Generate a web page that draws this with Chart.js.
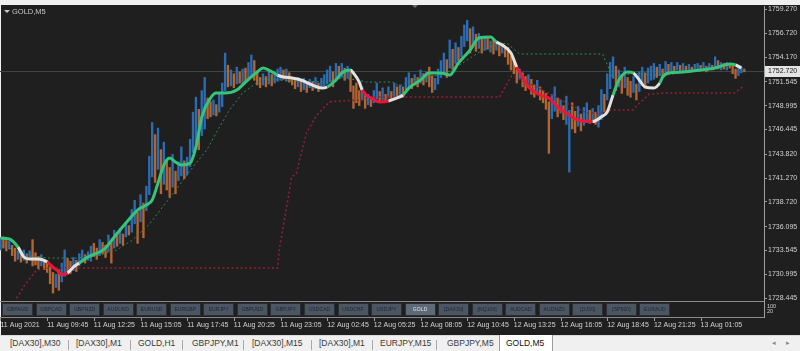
<!DOCTYPE html>
<html>
<head>
<meta charset="utf-8">
<script src="https://cdn.jsdelivr.net/npm/chart.js@4.4.1/dist/chart.umd.min.js"></script>
<style>
  body { margin: 0; width: 800px; height: 351px; overflow: hidden; background: #f0f0f0; font-family: 'Liberation Sans', Arial, sans-serif; position: relative; }
  #win { position: absolute; left: 1px; top: 5px; width: 799px; height: 330px; background: #1f1f1f; }
  #chart { position: absolute; left: 0; top: 0; }
  .title { position: absolute; left: 12px; top: 7px; font-size: 7.5px; color: #c8c8c8; }
  .tri { position: absolute; left: 4px; top: 10px; width: 0; height: 0; border-left: 3px solid transparent; border-right: 3px solid transparent; border-top: 3px solid #c8c8c8; }
  .shift { position: absolute; left: 412px; top: 5px; width: 0; height: 0; border-left: 3px solid transparent; border-right: 3px solid transparent; border-top: 3px solid #5f6f74; }
  .hline { position: absolute; left: 0; width: 764px; height: 1px; background: #8a8a8a; }
  .btn { position: absolute; top: 303px; height: 11px; width: 29px; background: #4c5562; border: 1px solid #2a2e35; font-size: 5px; line-height: 11px; text-align: center; color: #1c2430; letter-spacing: 0.1px; }
  .btn.on { background: #5f6a78; color: #e2e2e2; }
  .sub { position: absolute; left: 767px; font-size: 5.5px; color: #d0d0d0; line-height: 5px; }
  #tabs { position: absolute; left: 0; top: 335px; width: 800px; height: 16px; background: #f0f0f0; border-top: 1px solid #dadada; }
  .tab { position: absolute; top: 2px; font-size: 8.5px; color: #3a3a3a; }
  .sep { position: absolute; top: 4px; width: 1px; height: 10px; background: #a8a8a8; }
  .act { position: absolute; left: 499px; top: -1px; width: 52px; height: 17px; background: #ffffff; border: 1px solid #9c9c9c; border-top: none; }
  .arr { position: absolute; top: 3px; font-size: 7px; color: #8a8a8a; }
</style>
</head>
<body>
<div id="win"></div>
<canvas id="chart" width="800" height="335"></canvas>
<div class="tri"></div>
<div class="title">GOLD,M5</div>
<div class="shift"></div>
<div class="hline" style="top:301px"></div>
<div class="hline" style="top:317px"></div>
<div id="buttons"></div>
<div class="sub" style="top:304px">100</div>
<div class="sub" style="top:309px">20</div>
<div id="tabs"></div>
<script>
// time axis labels, one every 16 bars
const timeLabels = ['11 Aug 2021', '11 Aug 09:45', '11 Aug 12:25', '11 Aug 15:05', '11 Aug 17:45', '11 Aug 20:25',
  '11 Aug 23:05', '12 Aug 02:45', '12 Aug 05:25', '12 Aug 08:05', '12 Aug 10:45', '12 Aug 13:25',
  '12 Aug 16:05', '12 Aug 18:45', '12 Aug 21:25', '13 Aug 01:05'];

// price axis labels
const priceTicks = [1759.270, 1756.720, 1754.170, 1751.545, 1748.995, 1746.445, 1743.820,
  1741.270, 1738.720, 1736.095, 1733.545, 1730.995, 1728.445];
const lastPrice = 1752.720;

// bar lows / highs (GOLD M5)
const lows = [
  1733.6, 1733.8, 1733.5, 1733.7, 1733.0, 1732.4, 1732.6, 1732.3,
  1732.5, 1732.2, 1732.6, 1731.9, 1732.0, 1731.6, 1731.9, 1731.5,
  1731.2, 1730.0, 1729.0, 1729.6, 1729.3, 1730.2, 1730.8, 1731.0,
  1731.1, 1731.4, 1731.3, 1731.9, 1732.3, 1732.2, 1732.5, 1732.4,
  1732.9, 1732.6, 1733.0, 1733.2, 1732.8, 1733.4, 1732.2, 1733.8,
  1734.0, 1734.3, 1734.1, 1735.0, 1735.2, 1735.5, 1736.4, 1734.3,
  1736.6, 1734.9, 1737.8, 1739.5, 1741.4, 1740.8, 1742.2, 1739.6,
  1740.6, 1740.0, 1739.2, 1740.3, 1739.6, 1741.0, 1741.5, 1741.2,
  1741.6, 1742.5, 1744.0, 1745.0, 1744.3, 1745.8, 1746.5, 1747.6,
  1747.8, 1748.0, 1747.9, 1748.3, 1748.9, 1750.6, 1751.0, 1751.1,
  1750.9, 1751.3, 1751.4, 1751.2, 1751.6, 1751.7, 1752.1, 1751.7,
  1751.2, 1750.9, 1751.2, 1751.0, 1751.3, 1751.1, 1751.4, 1751.6,
  1751.7, 1751.8, 1751.6, 1751.5, 1751.2, 1750.8, 1751.0, 1750.5,
  1750.7, 1750.4, 1750.9, 1750.6, 1750.8, 1750.5, 1750.9, 1751.1,
  1751.3, 1751.5, 1751.0, 1751.6, 1751.9, 1752.0, 1751.7, 1751.9,
  1750.5, 1748.7, 1749.3, 1749.0, 1749.6, 1748.7, 1749.1, 1748.9,
  1749.3, 1749.7, 1749.4, 1749.6, 1749.3, 1749.8, 1749.5, 1749.9,
  1750.0, 1750.2, 1749.9, 1750.7, 1751.0, 1750.8, 1751.2, 1751.0,
  1751.4, 1751.2, 1751.5, 1751.0, 1750.4, 1750.7, 1751.3, 1752.0,
  1752.4, 1752.0, 1753.0, 1752.9, 1753.5, 1753.8, 1754.2, 1755.3,
  1755.9, 1754.6, 1755.2, 1754.8, 1755.1, 1754.6, 1754.9, 1755.0,
  1754.7, 1754.5, 1754.9, 1754.3, 1754.6, 1754.2, 1753.4, 1752.8,
  1752.4, 1751.4, 1751.9, 1751.0, 1750.6, 1751.0, 1750.2, 1749.9,
  1750.3, 1749.6, 1749.3, 1748.6, 1743.9, 1747.6, 1748.4, 1747.8,
  1748.2, 1747.5, 1747.0, 1741.9, 1746.5, 1746.1, 1746.8, 1746.3,
  1746.9, 1747.2, 1747.1, 1747.4, 1747.0, 1746.7, 1747.5, 1748.3,
  1749.6, 1750.8, 1751.9, 1750.6, 1751.0, 1750.3, 1750.9, 1750.1,
  1749.9, 1750.4, 1749.6, 1750.5, 1751.2, 1750.9, 1751.4, 1751.7,
  1751.8, 1752.0, 1752.2, 1752.1, 1752.5, 1752.6, 1752.7, 1752.5,
  1752.8, 1752.6, 1752.7, 1752.6, 1752.8, 1752.6, 1752.7, 1752.8,
  1752.7, 1752.8, 1752.6, 1752.9, 1752.8, 1753.0, 1752.9, 1752.8,
  1752.9, 1752.8, 1753.0, 1752.4, 1751.9, 1752.2, 1752.5, 1752.6
];
const highs = [
  1734.9, 1735.0, 1734.6, 1734.5, 1734.1, 1733.8, 1733.5, 1733.3,
  1733.6, 1733.2, 1733.5, 1734.7, 1733.3, 1732.9, 1733.1, 1732.6,
  1732.5, 1731.8, 1731.2, 1731.0, 1731.5, 1732.2, 1733.6, 1732.7,
  1732.4, 1732.8, 1732.5, 1733.2, 1733.6, 1733.1, 1733.4, 1734.0,
  1734.3, 1733.8, 1734.7, 1734.4, 1734.1, 1735.2, 1734.6, 1735.7,
  1735.4, 1735.9, 1735.3, 1736.5, 1736.2, 1737.9, 1738.9, 1737.6,
  1739.5, 1738.6, 1740.4, 1743.6, 1747.2, 1745.9, 1746.6, 1744.3,
  1745.1, 1743.2, 1742.4, 1743.8, 1742.0, 1743.0, 1744.6, 1743.1,
  1743.5, 1745.4, 1748.3, 1749.9, 1748.6, 1750.6, 1752.0, 1749.8,
  1749.4, 1749.6, 1749.1, 1750.2, 1751.4, 1754.6, 1753.3, 1752.8,
  1752.4, 1753.1, 1752.6, 1752.9, 1753.0, 1753.6, 1754.4, 1753.8,
  1752.6, 1752.0, 1752.4, 1752.1, 1752.8, 1752.3, 1752.6, 1752.9,
  1753.1, 1752.8, 1752.9, 1752.5, 1752.0, 1751.9, 1752.0, 1751.7,
  1751.9, 1751.5, 1751.8, 1751.6, 1752.0, 1751.4, 1751.9, 1752.3,
  1752.8, 1753.2, 1752.6, 1753.5, 1753.2, 1753.5, 1753.0, 1753.2,
  1752.6, 1751.1, 1751.4, 1750.6, 1751.0, 1750.3, 1750.2, 1749.9,
  1750.6, 1751.4, 1750.5, 1750.9, 1750.2, 1751.0, 1750.5, 1751.4,
  1751.0, 1751.2, 1751.0, 1752.0, 1752.5, 1751.9, 1752.3, 1752.0,
  1752.8, 1752.4, 1752.6, 1753.1, 1752.2, 1751.9, 1752.9, 1753.8,
  1754.6, 1753.9, 1756.0, 1755.0, 1755.7, 1755.2, 1756.4, 1757.6,
  1758.1, 1757.2, 1757.4, 1756.6, 1756.7, 1756.1, 1756.4, 1756.2,
  1755.9, 1756.0, 1755.8, 1755.5, 1755.6, 1755.3, 1755.2, 1754.3,
  1753.9, 1753.0, 1752.9, 1752.5, 1752.1, 1752.3, 1751.8, 1751.2,
  1751.7, 1751.0, 1750.6, 1750.3, 1749.4, 1750.2, 1751.0, 1749.8,
  1749.6, 1749.0, 1750.0, 1748.5, 1749.3, 1748.4, 1748.9, 1748.1,
  1748.8, 1749.3, 1748.5, 1748.7, 1748.3, 1749.0, 1750.7, 1750.2,
  1752.4, 1753.6, 1754.2, 1753.2, 1752.8, 1752.3, 1753.1, 1752.0,
  1751.6, 1752.1, 1751.3, 1752.6, 1753.1, 1752.5, 1753.0, 1753.2,
  1753.5, 1753.1, 1753.4, 1752.9, 1753.7, 1753.4, 1753.6, 1753.2,
  1753.6, 1753.3, 1753.5, 1753.2, 1753.4, 1753.1, 1753.4, 1753.5,
  1753.3, 1753.6, 1753.2, 1753.5, 1753.3, 1754.2, 1753.8, 1753.6,
  1753.5, 1753.6, 1753.5, 1753.4, 1752.9, 1753.1, 1753.1, 1752.9
];
// u = bullish bar, d = bearish bar
const barDir = ('udduddud ududddud ddduduud duduuduu dduddudu dududuud uduuudud udduduud ' +
  'uuuuduud duduuudu dududuud ddududuu ududddud udududuu uudududu ddddudud ' +
  'uudududu duduudud ududduuu udududuu udududud udududdd dduddudd udddduud ' +
  'uduuddud uududuud uuududud duduuduu udududud udududuu dudududu duddduud').replace(/ /g, '');

// smoothed moving average (bar index, price) and its trend state per segment
const maX = [0, 3, 6, 8, 10, 13, 16, 18, 20, 21, 23, 25, 27, 30, 34, 36, 39, 43, 47, 50,
  52, 54, 56, 58, 60, 62, 65, 67, 69, 72, 74, 77, 81, 84, 88, 90, 92, 95, 97, 100,
  103, 107, 110, 112, 115, 117, 120, 121, 123, 124, 127, 130, 133, 136, 138, 140, 144, 147, 151, 154,
  157, 161, 164, 168, 170, 172, 175, 177, 179, 181, 185, 188, 191, 194, 198, 203, 206, 208, 210, 212,
  215, 217, 219, 221, 224, 226, 227, 229, 234, 240, 245, 250, 252, 254];
const maY = [1734.87, 1734.77, 1733.91, 1732.85, 1732.64, 1732.64, 1732.31, 1731.78, 1731.25, 1730.93,
  1731.14, 1731.78, 1732.21, 1732.85, 1733.38, 1733.81, 1734.98, 1736.47, 1737.86, 1738.39,
  1738.93, 1740.74, 1742.66, 1743.41, 1742.98, 1742.66, 1742.87, 1744.58, 1747.78, 1749.81,
  1750.34, 1750.34, 1750.66, 1751.51, 1752.58, 1753.01, 1752.79, 1752.26, 1752.05, 1751.94,
  1751.73, 1751.19, 1750.87, 1750.98, 1751.73, 1752.47, 1752.79, 1752.47, 1751.51, 1750.66,
  1749.81, 1749.38, 1749.49, 1749.81, 1750.13, 1750.87, 1751.73, 1752.47, 1752.47, 1752.26,
  1753.54, 1754.93, 1756.21, 1756.31, 1755.78, 1755.46, 1754.61, 1753.11, 1752.05, 1750.98,
  1750.13, 1749.81, 1748.85, 1748.21, 1747.46, 1747.30, 1747.80, 1748.31, 1750.13, 1751.73,
  1752.58, 1752.47, 1751.73, 1750.98, 1750.87, 1751.41, 1752.05, 1752.47, 1752.58, 1752.79,
  1753.01, 1753.43, 1753.33, 1753.01];
const maTrend = ('gg wwww rrrr ww ggggg ggggg ggggg ggggg ggggg wwwwww ggg www rrr ww ' +
  'ggggg ggggg www rrrrrrrr www ggg wwww ggggggg ww').replace(/ /g, '');

// trailing levels (dotted)
const supportX = [0, 5, 10, 16.8, 26.1, 34, 39.8, 45.3, 51.1, 54.5, 58, 62.4, 66.5, 70.7, 74.1, 78.5,
  83, 87.8, 90.5, 95.7, 102.5, 111.8, 117.3, 122.1, 125.5, 134.4, 136.8, 141.3, 147.1, 152.9,
  158.4, 164.2, 167.7, 173.5, 178, 206.4, 207.8, 209.8, 212.2, 216.7, 222.5, 228.4, 239.7, 248.9, 251.7];
const supportY = [1734.02, 1733.60, 1732.95, 1732.74, 1732.74, 1733.06, 1733.60, 1734.66, 1736.37, 1737.75,
  1739.14, 1740.95, 1742.66, 1744.26, 1746.18, 1748.53, 1750.34, 1751.41, 1751.83, 1751.73,
  1751.62, 1751.51, 1751.94, 1751.73, 1751.51, 1751.51, 1751.09, 1751.73, 1752.05, 1752.47,
  1753.54, 1754.71, 1755.25, 1755.67, 1754.50, 1754.50, 1753.54, 1752.05, 1752.05, 1752.47,
  1752.26, 1752.26, 1752.79, 1753.33, 1753.54];
const stopX = [5.5, 8.3, 12.4, 16.8, 95, 95.7, 98.1, 99.8, 101.5, 102.5, 104.9, 108.4, 112.8, 115.6,
  124.1, 125.8, 171.1, 173.2, 175.2, 183.8, 194.1, 200.9, 205.4, 209.8, 216.7, 219.1, 222.5,
  228.4, 251.7, 254.4];
const stopY = [1728.47, 1729.86, 1731.46, 1731.68, 1731.68, 1733.91, 1738.18, 1741.38, 1741.81, 1743.19,
  1746.07, 1747.99, 1749.38, 1749.49, 1749.59, 1749.91, 1749.91, 1751.09, 1752.15, 1750.98,
  1749.27, 1748.21, 1748.21, 1748.53, 1748.53, 1749.27, 1750.23, 1750.34, 1750.34, 1750.98];

// symbol buttons in the sub window and the chart tabs
const symbols = ['GBPAUD', 'GBPCAD', 'GBPNZD', 'AUDUSD', 'EURUSD', 'EURGBP', 'EURJPY', 'GBPUSD', 'GBPJPY',
  'USDCAD', 'USDCHF', 'USDJPY', 'GOLD', '[DAX30]', '[NQ100]', 'AUDCAD', 'AUDNZD', '[DJ30]', '[SP500]', 'EURAUD'];
const tabNames = ['[DAX30],M30', '[DAX30],M1', 'GOLD,H1', 'GBPJPY,M1', '[DAX30],M15', '[DAX30],M1',
  'EURJPY,M15', 'GBPJPY,M5', 'GOLD,M5'];
const tabLeft = [10, 76, 138, 192, 252, 319, 380, 447, 506];
const sepLeft = [68, 130, 182, 243, 311, 372, 436];

const BLUE = '#2b6cb3';
const ORANGE = '#b5652f';
const trendColors = { g: '#35c47a', w: '#e2e2e2', r: '#ee1539' };

// build buttons
const btnBox = document.getElementById('buttons');
symbols.forEach((s, k) => {
  const d = document.createElement('div');
  d.className = 'btn' + (s === 'GOLD' ? ' on' : '');
  d.style.left = (2 + k * 33.55) + 'px';
  d.textContent = s;
  btnBox.appendChild(d);
});

// build tabs
const tabs = document.getElementById('tabs');
const act = document.createElement('div');
act.className = 'act';
tabs.appendChild(act);
tabNames.forEach((t, k) => {
  const d = document.createElement('div');
  d.className = 'tab';
  d.style.left = tabLeft[k] + 'px';
  if (k === tabNames.length - 1) d.style.color = '#111';
  d.textContent = t;
  tabs.appendChild(d);
});
sepLeft.forEach(x => {
  const d = document.createElement('div');
  d.className = 'sep';
  d.style.left = x + 'px';
  tabs.appendChild(d);
});
[['\u25C2', 772], ['\u25B8', 786]].forEach(([c, x]) => {
  const d = document.createElement('div');
  d.className = 'arr';
  d.style.left = x + 'px';
  d.textContent = c;
  tabs.appendChild(d);
});

// price line, price box and time tick marks
const terminalPlugin = {
  id: 'terminal',
  beforeDatasetsDraw(chart) {
    const { ctx, chartArea, scales } = chart;
    const y = Math.round(scales.y.getPixelForValue(lastPrice)) + 0.5;
    ctx.save();
    ctx.strokeStyle = '#3a4742';
    ctx.lineWidth = 1;
    ctx.beginPath();
    ctx.moveTo(chartArea.left, y);
    ctx.lineTo(chartArea.right, y);
    ctx.stroke();
    ctx.restore();
  },
  afterDraw(chart) {
    const { ctx, chartArea, scales } = chart;
    const y = Math.round(scales.y.getPixelForValue(lastPrice));
    ctx.save();
    ctx.fillStyle = '#e4e4e4';
    ctx.fillRect(chartArea.right + 1, y - 5, 35, 11);
    ctx.fillStyle = '#1a1a1a';
    ctx.font = '7px "Liberation Sans", Arial, sans-serif';
    ctx.textBaseline = 'middle';
    ctx.fillText(lastPrice.toFixed(3), chartArea.right + 4, y + 0.5);
    ctx.strokeStyle = '#a0a0a0';
    ctx.beginPath();
    scales.x.ticks.forEach(t => {
      const x = Math.round(scales.x.getPixelForValue(t.value)) + 0.5;
      ctx.moveTo(x, 318);
      ctx.lineTo(x, 321);
    });
    ctx.moveTo(chartArea.right + 0.5, chartArea.bottom);
    ctx.lineTo(chartArea.right + 0.5, 318);
    ctx.stroke();
    ctx.restore();
  }
};

const ctx = document.getElementById('chart').getContext('2d');
new Chart(ctx, {
  type: 'bar',
  data: {
    datasets: [
      {
        type: 'line',
        data: maX.map((x, i) => ({ x: x, y: maY[i] })),
        borderWidth: 3,
        pointRadius: 0,
        cubicInterpolationMode: 'monotone',
        borderColor: trendColors.g,
        segment: { borderColor: c => trendColors[maTrend[c.p0DataIndex]] || trendColors.g },
        order: 1
      },
      {
        type: 'line',
        data: supportX.map((x, i) => ({ x: x, y: supportY[i] })),
        borderColor: '#2f8c55',
        borderWidth: 1,
        borderDash: [2, 2.5],
        pointRadius: 0,
        order: 2
      },
      {
        type: 'line',
        data: stopX.map((x, i) => ({ x: x, y: stopY[i] })),
        borderColor: '#93203a',
        borderWidth: 1.5,
        borderDash: [2, 2.5],
        pointRadius: 0,
        order: 2
      },
      {
        type: 'bar',
        data: lows.map((lo, i) => ({ x: i, y: [lo, highs[i]] })),
        backgroundColor: c => barDir[c.dataIndex] === 'u' ? BLUE : ORANGE,
        barThickness: 1.7,
        grouped: false,
        order: 3
      }
    ]
  },
  options: {
    responsive: false,
    animation: false,
    devicePixelRatio: 1,
    layout: { padding: { top: 6, left: 0, right: 0, bottom: 0 } },
    plugins: { legend: { display: false }, tooltip: { enabled: false } },
    scales: {
      x: {
        type: 'linear',
        min: -0.17,
        max: 261.75,
        offset: false,
        grid: { display: false, drawTicks: false },
        border: { display: false },
        afterFit: s => { s.height = 35; s.paddingLeft = 0; s.paddingRight = 0; },
        afterBuildTicks: s => { s.ticks = timeLabels.map((t, k) => ({ value: k * 16 })); },
        ticks: {
          autoSkip: false,
          maxRotation: 0,
          align: 'start',
          padding: 21,
          color: '#d2d2d2',
          font: { size: 7, family: '"Liberation Sans", Arial, sans-serif' },
          callback: (v, k) => timeLabels[k]
        }
      },
      y: {
        position: 'right',
        min: 1728.264,
        max: 1759.622,
        grid: { drawOnChartArea: false, drawTicks: true, tickLength: 3, color: '#a0a0a0' },
        border: { display: true, color: '#a0a0a0' },
        afterFit: s => { s.width = 36; s.paddingTop = 0; s.paddingBottom = 0; },
        afterBuildTicks: s => { s.ticks = priceTicks.map(v => ({ value: v })); },
        ticks: {
          autoSkip: false,
          padding: 1,
          color: '#d2d2d2',
          font: { size: 7, family: '"Liberation Sans", Arial, sans-serif' },
          callback: v => Number(v).toFixed(3)
        }
      }
    }
  },
  plugins: [terminalPlugin]
});
</script>
</body>
</html>
